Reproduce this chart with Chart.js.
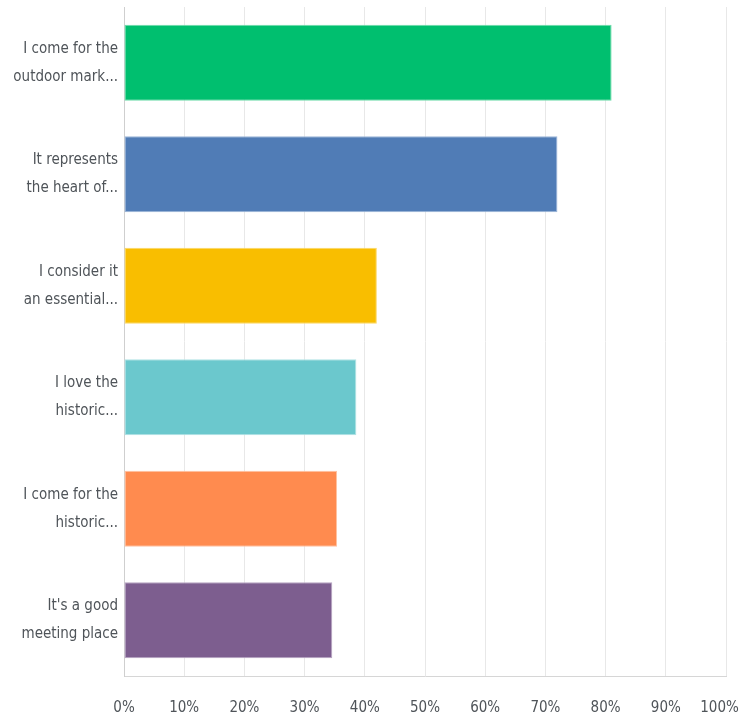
<!DOCTYPE html>
<html>
<head>
<meta charset="utf-8">
<script src="https://cdn.jsdelivr.net/npm/chart.js@4/dist/chart.umd.min.js"></script>
<style>
  html, body { margin: 0; padding: 0; background: #fff; }
  #wrap { width: 740px; height: 718px; position: relative; }
</style>
</head>
<body>
<div id="wrap"><canvas id="reasonsChart"></canvas></div>
<script>
// Réponses (libellés sur deux lignes, tronqués comme dans l'enquête)
const answerLabels = [
  ["I come for the", "outdoor mark..."],
  ["It represents", "the heart of..."],
  ["I consider it", "an essential..."],
  ["I love the", "historic..."],
  ["I come for the", "historic..."],
  ["It's a good", "meeting place"]
];

// Pourcentage de répondants par réponse
const answerPercents = [81, 72, 42, 38.6, 35.4, 34.6];

const barColors = ["#00bf6f", "#507cb6", "#f9be00", "#6bc8cd", "#ff8b4f", "#7d5e8f"];
const barBorders = ["#6fdcaa", "#9ab5d8", "#fbd866", "#b0e2e4", "#ffc2a2", "#b7a4c2"];

const xTicks = [0, 10, 20, 30, 40, 50, 60, 70, 80, 90, 100];

const fontFamily = "'DejaVu Sans Condensed', 'Liberation Sans Narrow', 'DejaVu Sans', sans-serif";
const textColor = "#4f5459";

function renderChart() {
  const ctx = document.getElementById("reasonsChart").getContext("2d");
  new Chart(ctx, {
    type: "bar",
    data: {
      labels: answerLabels,
      datasets: [
        {
          data: answerPercents,
          backgroundColor: barColors,
          borderColor: barBorders,
          borderWidth: 1,
          borderSkipped: false,
          categoryPercentage: 1,
          barPercentage: 0.68,
        },
      ],
    },
    options: {
      indexAxis: "y",
      responsive: true,
      maintainAspectRatio: false,
      animation: false,
      layout: { padding: { top: 7, right: 14, left: 0, bottom: 0 } },
      plugins: {
        legend: { display: false },
        tooltip: { enabled: false },
      },
      scales: {
        x: {
          min: 0,
          max: 100,
          afterBuildTicks: (scale) => {
            scale.ticks = xTicks.map((v) => ({ value: v }));
          },
          afterFit: (scale) => {
            scale.height = 42;
            scale.paddingLeft = 0;
            scale.paddingRight = 0;
          },
          grid: { color: "#e8e8e8", lineWidth: 1, drawTicks: false },
          border: { color: "#d6d6d6", width: 1 },
          ticks: {
            padding: 23,
            color: textColor,
            font: { family: fontFamily, size: 15 },
            // espaces en fin de "100%" pour le garder dans le canvas
            callback: (v) => (v === 100 ? v + "%\u2007\u2008" : v + "%"),
          },
        },
        y: {
          afterFit: (scale) => {
            scale.width = 124;
            scale.paddingTop = 0;
            scale.paddingBottom = 0;
          },
          grid: { display: false, drawTicks: false },
          border: { color: "#cfcfcf", width: 1 },
          ticks: {
            padding: 6,
            color: textColor,
            font: { family: fontFamily, size: 15, lineHeight: 1.85 },
          },
        },
      },
    },
  });
}

window.onload = () => {
  renderChart();
};
</script>
</body>
</html>
